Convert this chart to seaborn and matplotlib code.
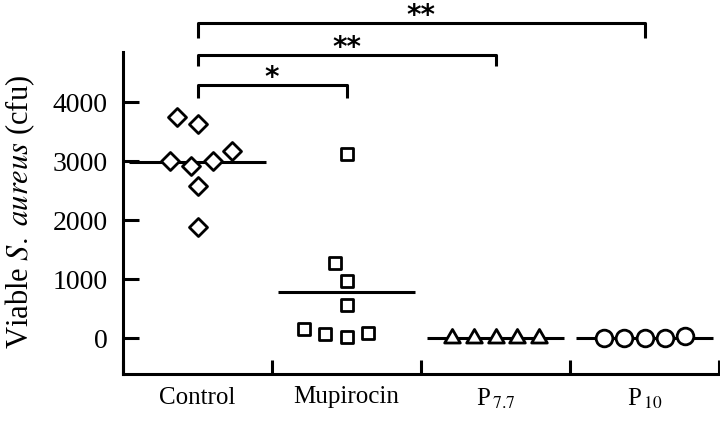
import pandas as pd
import matplotlib
matplotlib.use('Agg')
import matplotlib.pyplot as plt
import seaborn as sns

# values (cfu per animal)
groups = ['Control', 'Mupirocin', 'P7.7', 'P10']
tick_labels = ['Control', 'Mupirocin', r'P$_{\,7.7}$', r'P$_{\,10}$']
control = [3746, 3627, 3169, 3000, 2915, 3000, 2576, 1881]
mupirocin = [3119, 1271, 966, 559, 150, 70, 20, 90]
p77 = [0, 0, 0, 0, 0]
p10 = [0, 0, 0, 0, 30]
stars = ['*', '**', '**']
compare_to = [1, 2, 3]

df = pd.DataFrame({
    'group': ['Control'] * len(control) + ['Mupirocin'] * len(mupirocin)
             + ['P7.7'] * len(p77) + ['P10'] * len(p10),
    'cfu': control + mupirocin + p77 + p10,
})
means = df.groupby('group')['cfu'].mean().reindex(groups)

sns.set_style('ticks')
plt.rcParams['font.family'] = ['Liberation Serif', 'DejaVu Serif']
plt.rcParams['mathtext.fontset'] = 'stix'
plt.rcParams['font.size'] = 18
for key in ['text.color', 'axes.labelcolor', 'xtick.color', 'ytick.color', 'axes.edgecolor']:
    plt.rcParams[key] = 'black'

fig = plt.figure(figsize=(7.2, 4.22), dpi=100)
ax = fig.add_axes([123 / 720, 48 / 422, 596 / 720, 374 / 422])
ax.set_ylim(-610, 5729)

# marker per group: diamond, square, triangle, circle
markers = [(4, 0, 0), (4, 0, 45), (3, 0, 0), 'o']
sizes = [13, 13, 13, 12]
for grp, mk, sz in zip(groups, markers, sizes):
    sns.swarmplot(data=df[df['group'] == grp], x='group', y='cfu', order=groups,
                  marker=mk, size=sz, color='white', edgecolor='black',
                  linewidth=2, zorder=3, ax=ax)

# mean lines
for i, m in enumerate(means):
    ax.hlines(m, i - 0.46, i + 0.46, color='black', linewidth=2.2, zorder=1)

ax.set_xlim(-0.5, 3.5)

# significance brackets (Control vs each group)
levels = [4288, 4797, 5339]
drop = [220, 187, 254]
for j, (k, s) in enumerate(zip(compare_to, stars)):
    y = levels[j]
    ax.plot([0, 0, k, k], [y - drop[j], y, y, y - drop[j]], color='black',
            linewidth=2.2, clip_on=False, solid_capstyle='butt')
    ax.text(k / 2, y - 20, s, ha='center', va='baseline', fontsize=20,
            fontweight='bold', family='DejaVu Sans')

ax.set_yticks([0, 1000, 2000, 3000, 4000])
ax.set_xticks(range(len(groups)), tick_labels)
ax.set_xticks([-0.5, 0.5, 1.5, 2.5, 3.5], minor=True)
ax.tick_params(axis='x', which='major', length=0, pad=9, labelsize=18)
ax.tick_params(axis='x', which='minor', direction='in', length=10, width=2.2)
ax.tick_params(axis='y', direction='in', length=11.5, width=2.2, pad=11, labelsize=20)

for side in ['top', 'right']:
    ax.spines[side].set_visible(False)
for side in ['left', 'bottom']:
    ax.spines[side].set_linewidth(2.2)
ax.spines['left'].set_bounds(-610, 4850)

ax.set_xlabel('')
ax.set_ylabel(r'Viable $\mathit{S.\ aureus}$ (cfu)', fontsize=22)
ax.yaxis.set_label_coords(-0.145, 0.433)

fig.savefig('out.png', dpi=100)
